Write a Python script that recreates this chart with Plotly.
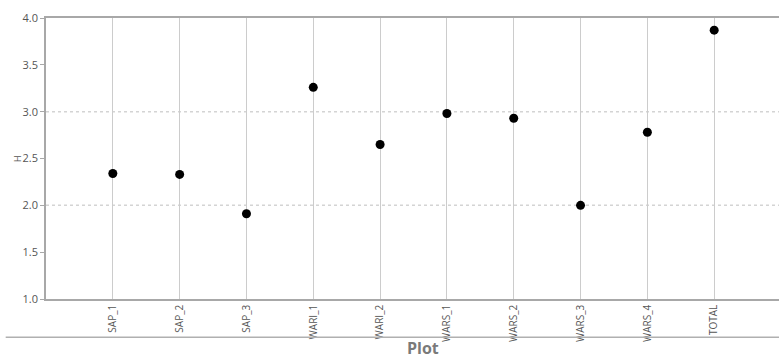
import plotly.graph_objects as go

# Category labels and H values per group
categories = ["SAP_1", "SAP_2", "SAP_3", "WARI_1", "WARI_2",
              "WARS_1", "WARS_2", "WARS_3", "WARS_4", "TOTAL"]
h_values = [2.34, 2.33, 1.91, 3.26, 2.65, 2.98, 2.93, 2.00, 2.78, 3.87]
y_ticks = [1.0, 1.5, 2.0, 2.5, 3.0, 3.5, 4.0]
grid_levels = [2.0, 3.0]

fig = go.Figure()
fig.add_trace(go.Scatter(
    x=list(range(len(categories))),
    y=h_values,
    mode="markers",
    marker=dict(color="black", size=9),
    hoverinfo="text",
    text=[f"{c}: {v:.2f}" for c, v in zip(categories, h_values)],
))

# Dotted horizontal reference lines at whole values
for lvl in grid_levels:
    fig.add_shape(type="line", xref="paper", yref="y", x0=0, x1=1, y0=lvl, y1=lvl,
                  line=dict(color="#d4d4d4", width=1.5, dash="dot"), layer="below")

# Rule above the caption
fig.add_shape(type="line", xref="paper", yref="paper", x0=-0.055, x1=1.0,
              y0=-0.136, y1=-0.136, line=dict(color="#b0b0b0", width=1.5))

fig.add_annotation(text="<b>Plot</b>", xref="paper", yref="paper", x=0.515, y=-0.128,
                   yanchor="top", xanchor="center", showarrow=False,
                   font=dict(family="Open Sans", size=16, color="#7a7a7a"))

fig.add_annotation(text="H", xref="paper", yref="y", x=-0.039, y=2.5,
                   xanchor="center", yanchor="middle",
                   textangle=-90, showarrow=False,
                   font=dict(family="Open Sans", size=9, color="#555555"))

fig.update_layout(
    width=779, height=354,
    margin=dict(l=46, r=0, t=18, b=55),
    plot_bgcolor="white", paper_bgcolor="white",
    showlegend=False,
    font=dict(family="Open Sans", size=10, color="#555555"),
    xaxis=dict(
        range=[-1, 9.97],
        tickmode="array",
        tickvals=list(range(len(categories))),
        ticktext=categories,
        tickangle=-90,
        showgrid=True, gridcolor="#cccccc", gridwidth=1,
        showline=True, linecolor="#a8a8a8", linewidth=1.5, mirror=True,
        ticks="", zeroline=False,
        tickfont=dict(size=10, color="#555555"),
    ),
    yaxis=dict(
        range=[1.0, 4.0],
        tickmode="array",
        tickvals=y_ticks,
        ticktext=[f"{t:.1f}" for t in y_ticks],
        showgrid=False,
        showline=True, linecolor="#a8a8a8", linewidth=1.5,
        ticks="outside", ticklen=4, tickcolor="#a8a8a8",
        zeroline=False,
        tickfont=dict(size=11, color="#555555"),
    ),
)

fig.write_html("out.html")
